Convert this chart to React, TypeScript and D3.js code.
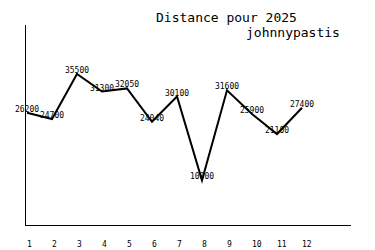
import React from "react";
import * as d3 from "d3";

const months = [1, 2, 3, 4, 5, 6, 7, 8, 9, 10, 11, 12];
const distances = [26200, 24700, 35500, 31300, 32050, 24040, 30100, 10000, 31600, 25900, 21100, 27400];
const titleLine1 = "Distance pour 2025";
const titleLine2 = "johnnypastis";

export default function App() {
  const W = 375, H = 250;
  const x = d3.scaleLinear().domain([1, 12]).range([27, 302]);
  const y = d3.scaleLinear().domain([0, 35500]).range([222, 74]);
  const line = d3
    .line<number>()
    .x((_, i) => x(months[i]))
    .y((d) => y(d));
  const mono = "'DejaVu Sans Mono', monospace";
  return (
    <svg
      width={W}
      height={H}
      style={{ position: "absolute", left: 0, top: 0, background: "#fff" }}
    >
      <rect x={0} y={0} width={W} height={H} fill="#fff" />
      <text x={156} y={22} fontFamily={mono} fontSize={13} fill="#000">
        {titleLine1}
      </text>
      <text x={246} y={37} fontFamily={mono} fontSize={13} fill="#000">
        {titleLine2}
      </text>
      <line x1={25.5} y1={25} x2={25.5} y2={225} stroke="#000" strokeWidth={1} />
      <line x1={25} y1={225.5} x2={351} y2={225.5} stroke="#000" strokeWidth={1} />
      <path d={line(distances) || ""} fill="none" stroke="#000" strokeWidth={2} />
      {distances.map((d, i) => (
        <text
          key={i}
          x={x(months[i])}
          y={y(d) - 1}
          textAnchor="middle"
          fontFamily={mono}
          fontSize={8}
          fill="#000"
        >
          {d}
        </text>
      ))}
      {months.map((m) => (
        <text
          key={m}
          x={x(m)}
          y={247}
          fontFamily={mono}
          fontSize={8}
          fill="#000"
        >
          {m}
        </text>
      ))}
    </svg>
  );
}
